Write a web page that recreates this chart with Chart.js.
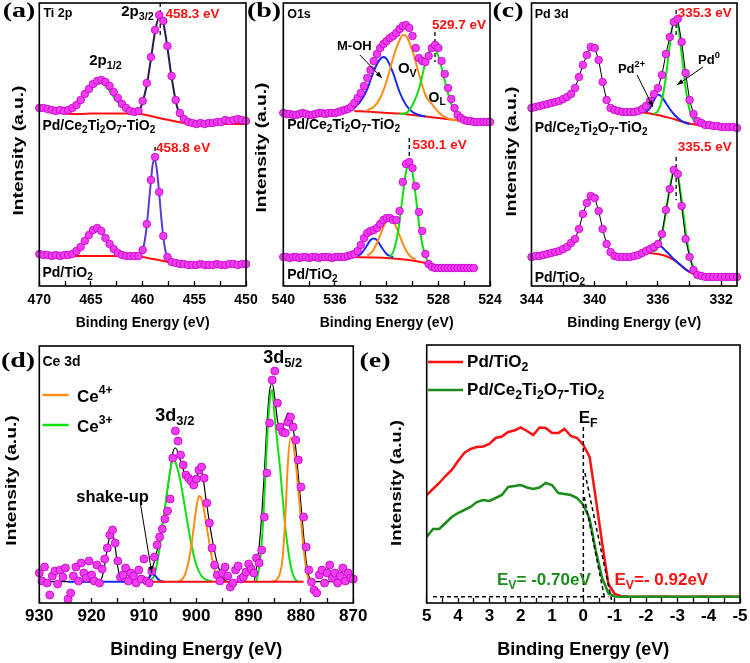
<!DOCTYPE html>
<html>
<head>
<meta charset="utf-8">
<title>XPS spectra</title>
<script src="https://cdn.jsdelivr.net/npm/chart.js@4.4.1/dist/chart.umd.min.js"></script>
<style>
  html, body { margin: 0; padding: 0; background: #fff; }
  #fig { position: relative; width: 750px; height: 663px; overflow: hidden; }
  #fig canvas { position: absolute; left: 0; top: 0; }
</style>
</head>
<body>
<div id="fig">
  <canvas id="panelA" width="750" height="663"></canvas>
  <canvas id="panelB" width="750" height="663"></canvas>
  <canvas id="panelC" width="750" height="663"></canvas>
  <canvas id="panelD" width="750" height="663"></canvas>
  <canvas id="panelE" width="750" height="663"></canvas>
</div>
<script>
// ---------- (a) Ti 2p ----------
const aEnergy = [470, 469.6, 469.2, 468.8, 468.4, 468, 467.6, 467.2, 466.8, 466.4,
  466, 465.6, 465.2, 464.8, 464.4, 464, 463.6, 463.2, 462.8, 462.4,
  462, 461.6, 461.2, 460.8, 460.4, 460, 459.6, 459.2, 458.8, 458.4,
  458, 457.6, 457.2, 456.8, 456.4, 456, 455.6, 455.2, 454.8, 454.4,
  454, 453.6, 453.2, 452.8, 452.4, 452, 451.6, 451.2, 450.8, 450.4, 450];
const aUpper = [178, 178, 177, 176, 175, 176, 175, 176, 178, 181,
  186, 192, 197, 202, 205, 206, 204, 200, 194, 188,
  182, 178, 175, 174, 175, 185, 203, 229, 256, 271,
  265, 240, 210, 186, 173, 167, 164, 163, 162, 163,
  162, 163, 163, 164, 164, 166, 165, 166, 167, 166, 165];
const aLower = [32, 31, 31, 30, 31, 30, 31, 31, 32, 35,
  39, 45, 51, 56, 58, 55, 48, 42, 37, 33,
  31, 30, 30, 30, 30, 36, 62, 106, 129, 94,
  50, 29, 24, 23, 22, 22, 21, 21, 21, 22,
  21, 21, 21, 22, 21, 21, 22, 22, 21, 22, 22];
const aUpperBg = [[470, 176], [469, 175], [468, 173.5], [467, 172], [466, 172], [465, 172.5], [464, 172.5],
  [463, 172.5], [462, 172.5], [461, 172.5], [460.2, 172], [459, 169.5], [458, 167], [457, 165], [456, 163],
  [455.5, 162.5], [455, 162], [450, 162]];
const aUpperP12 = [[467.2, 174], [466.8, 176], [466.4, 179], [466, 184], [465.6, 189], [465.2, 195], [464.8, 200],
  [464.4, 203], [464, 203], [463.6, 200], [463.2, 195], [462.8, 189], [462.4, 184], [462, 179], [461.6, 176],
  [461.2, 174], [460.8, 173]];
const aUpperP32 = [[460.4, 173], [460, 184], [459.6, 201], [459.2, 227], [458.8, 254], [458.4, 269], [458, 263],
  [457.6, 238], [457.2, 209], [456.8, 185], [456.4, 171], [456, 166], [455.6, 163]];
const aLowerBg = [[470, 31], [466, 30], [462, 30], [460.4, 29.5], [459, 27], [458, 25], [457, 23], [456, 22],
  [455, 21.5], [450, 21]];
const aLowerP12 = [[467.2, 31], [466.8, 32], [466.4, 34.5], [466, 39], [465.6, 45], [465.2, 51], [464.8, 56],
  [464.4, 57], [464, 54], [463.6, 48], [463.2, 42], [462.8, 36], [462.4, 33], [462, 31], [461.6, 30]];
const aLowerP32 = [[460.4, 30], [460.2, 32], [460, 35.5], [459.8, 45], [459.6, 60.5], [459.4, 82.5], [459.2, 105],
  [459, 123], [458.8, 126], [458.6, 114], [458.4, 93], [458.2, 68.5], [458, 49], [457.8, 35.5], [457.6, 28],
  [457.4, 25], [457.2, 23.5]];
const aMarkUp = [[458.3, 283], [458.3, 249]];
const aMarkLow = [[458.8, 139], [458.8, 126]];
const aMajor = [470, 465, 460, 455, 450];
const aMinor = [467.5, 462.5, 457.5, 452.5];

// ---------- (b) O 1s ----------
const bEnergy = [540, 539.75, 539.5, 539.25, 539, 538.75, 538.5, 538.25, 538, 537.75,
  537.5, 537.25, 537, 536.75, 536.5, 536.25, 536, 535.75, 535.5, 535.25,
  535, 534.75, 534.5, 534.25, 534, 533.75, 533.5, 533.25, 533, 532.75,
  532.5, 532.25, 532, 531.75, 531.5, 531.25, 531, 530.75, 530.5, 530.25,
  530, 529.75, 529.5, 529.25, 529, 528.75, 528.5, 528.25, 528, 527.75,
  527.5, 527.25, 527, 526.75, 526.5, 526.25, 526, 525.75, 525.5, 525.25,
  525, 524.75, 524.5, 524.25, 524];
const bUpper = [173, 172, 172, 171, 171, 172, 173, 172, 171, 171,
  172, 173, 173, 172, 173, 173, 173, 174, 175, 176,
  177, 179, 183, 188, 193, 200, 208, 216, 225, 232,
  238, 242, 245, 248, 250, 253, 257, 260, 261, 258,
  250, 238, 228, 225, 224, 230, 238, 241, 238, 225,
  212, 198, 187, 178, 171, 168, 166, 165, 165, 164,
  164, 164, 164, 164, 164];
const bLower = [29, 29, 28, 29, 29, 28, 29, 29, 28, 29,
  29, 28, 29, 29, 29, 28, 29, 29, 29, 29,
  30, 31, 32, 35, 41, 48, 53, 55, 56, 58,
  62, 66, 68, 68, 66, 66, 75, 104, 122, 124,
  118, 100, 74, 55, 32, 22, 19, 18, 18, 18,
  18, 18, 18, 18, 18, 18, 18, 18, 18, 18,
  null, null, null, null, null];
const bUpperBg = [[534.5, 175], [533, 174], [532, 173], [531, 172.5], [530, 171], [529, 169.5], [528, 168],
  [527, 166.5], [526, 165], [525, 164.3]];
const bUpperOH = [[534.5, 178], [534, 185], [533.5, 197], [533, 215], [532.5, 227], [532.25, 229], [532, 227],
  [531.5, 213], [531, 194], [530.5, 181], [530, 174], [529.5, 171], [529, 169.5]];
const bUpperOv = [[533.5, 176], [533, 179], [532.5, 188], [532, 205], [531.5, 228], [531, 246], [530.75, 251],
  [530.5, 250], [530, 235], [529.5, 212], [529, 191], [528.5, 182], [528, 174], [527.5, 169], [527, 166.5],
  [526.5, 165.5]];
const bUpperOL = [[531, 172], [530.5, 173], [530, 181], [529.5, 197], [529, 223], [528.5, 239], [528, 230],
  [527.5, 205], [527, 182], [526.5, 170], [526, 165.5], [525.5, 165]];
const bLowerBg = [[534.5, 29], [533, 28.5], [532, 28], [531, 27], [530, 25.5], [529, 23], [528.5, 21],
  [528, 20], [527, 19], [526, 18.5], [525.2, 18.5]];
const bLowerOH = [[534.25, 30], [534, 32], [533.75, 36], [533.5, 41], [533.25, 46], [533, 47.5], [532.75, 46],
  [532.5, 41], [532.25, 36], [532, 32], [531.75, 30], [531.5, 28.5]];
const bLowerOv = [[533.5, 30.5], [533.25, 32.5], [533, 36.5], [532.75, 43], [532.5, 51], [532.25, 59],
  [532, 65.6], [531.75, 68], [531.5, 65.5], [531.25, 58.5], [531, 50.5], [530.75, 42.5], [530.5, 35.5],
  [530.25, 31], [530, 28], [529.75, 27]];
const bLowerOL = [[531.75, 29], [531.5, 34], [531.25, 45], [531, 64.5], [530.75, 91], [530.5, 114],
  [530.25, 123.5], [530, 113], [529.75, 90], [529.5, 62.5], [529.25, 42.5], [529, 30], [528.75, 24], [528.5, 21]];
const bMarkUp = [[528.26, 254], [528.26, 224]];
const bMarkLow = [[530.25, 148], [530.25, 126]];
const bMajor = [540, 536, 532, 528, 524];
const bMinor = [538, 534, 530, 526];

// ---------- (c) Pd 3d ----------
const cEnergy = [344, 343.75, 343.5, 343.25, 343, 342.75, 342.5, 342.25, 342, 341.75,
  341.5, 341.25, 341, 340.75, 340.5, 340.25, 340, 339.75, 339.5, 339.25,
  339, 338.75, 338.5, 338.25, 338, 337.75, 337.5, 337.25, 337, 336.75,
  336.5, 336.25, 336, 335.75, 335.5, 335.25, 335, 334.75, 334.5, 334.25,
  334, 333.75, 333.5, 333.25, 333, 332.75, 332.5, 332.25, 332, 331.75,
  331.5, 331.25, 331];
const cUpper = [178, 179, 180, 181, 182, 183, 184, 185, 187, 189,
  192, 198, 209, 221, 231, 239, 238, 226, 204, 186,
  178, 176, 175, 174, 174, 174, 174, 175, 177, 180,
  185, 192, 198, 211, 232, 249, 264, 267, 244, 213,
  186, 172, 165, 163, 161, 161, 160, 160, 159, 159,
  159, 159, 158];
const cLower = [29, 30, 30, 31, 32, 33, 34, 35, 37, 39,
  43, 47, 57, 72, 83, 90, 88, 75, 57, 42,
  34, 30, 29, 29, 29, 29, 30, 31, 33, 35,
  37, 39, 42, 52, 76, 97, 116, 112, 80, 47,
  29, 16, 11, 10, 9, 9, 9, 9, 9, 9,
  9, 9, 9];
const cUpperBg = [[337.25, 174], [336.5, 172.5], [336, 171], [335.5, 169], [335, 167], [334.5, 164.5],
  [334, 162.5], [333.5, 161], [333, 159.5], [332.9, 159.3]];
const cUpperPd2 = [[336.75, 174], [336.5, 178], [336.25, 186], [336, 191.5], [335.75, 189], [335.5, 183],
  [335.25, 177], [335, 172], [334.75, 168], [334.5, 165], [334.25, 163], [334, 162]];
const cUpperPd0 = [[336.25, 172], [336, 175], [335.75, 186], [335.5, 209], [335.25, 241], [335, 264.5],
  [334.75, 261], [334.5, 232], [334.25, 198], [334, 176], [333.75, 166], [333.5, 161.5]];
const cLowerBg = [[337.25, 34], [336.5, 33], [336, 32], [335.5, 30], [335, 26], [334.5, 20], [334, 14],
  [333.5, 10], [333.25, 9]];
const cLowerPd2 = [[336.75, 35], [336.5, 38], [336.25, 40.5], [336, 41], [335.75, 39], [335.5, 35],
  [335.25, 31], [335, 27], [334.75, 23.5], [334.5, 20], [334.25, 16.5], [334, 14]];
const cLowerPd0 = [[336.25, 34], [336, 39], [335.75, 51], [335.5, 73], [335.25, 98.5], [335, 115],
  [334.75, 111], [334.5, 85.5], [334.25, 55], [334, 31], [333.75, 18], [333.5, 10.5]];
const cMarkUp = [[334.85, 276], [334.85, 251]];
const cMarkLow = [[334.85, 129], [334.85, 86]];
const cMajor = [344, 340, 336, 332];
const cMinor = [342, 338, 334];

// ---------- (d) Ce 3d ----------
const dEnergy = [930, 929.5, 929, 928.5, 928, 927.5, 927, 926.5, 926, 925.5,
  925, 924.5, 924, 923.5, 923, 922.5, 922, 921.5, 921, 920.5,
  920, 919.5, 919, 918.5, 918, 917.5, 917, 916.5, 916, 915.5,
  915, 914.5, 914, 913.5, 913, 912.5, 912, 911.5, 911, 910.5,
  910, 909.5, 909, 908.5, 908, 907.5, 907, 906.5, 906, 905.5,
  905, 904.5, 904, 903.5, 903, 902.5, 902, 901.5, 901, 900.5,
  900, 899.5, 899, 898.5, 898, 897.5, 897, 896.5, 896, 895.5,
  895, 894.5, 894, 893.5, 893, 892.5, 892, 891.5, 891, 890.5,
  890, 889.5, 889, 888.5, 888, 887.5, 887, 886.5, 886, 885.5,
  885, 884.5, 884, 883.5, 883, 882.5, 882, 881.5, 881, 880.5,
  880, 879.5, 879, 878.5, 878, 877.5, 877, 876.5, 876, 875.5,
  875, 874.5, 874, 873.5, 873, 872.5, 872, 871.5, 871, 870.5, 870];
const dCounts = [30, 22, 36, 20, 8, 27, 32, 19, 33, 26,
  35, 4, 10, 27, 36, 22, 40, 30, 25, 42,
  28, 22, 38, 20, 34, 44, 55, 68, 73, 60,
  42, 26, 28, 35, 22, 30, 27, 20, 33, 24,
  44, 22, 20, 32, 46, 58, 66, 74, 84, 92,
  104, 145, 172, 162, 148, 138, 128, 125, 122, 118,
  124, 133, 136, 125, 100, 80, 55, 38, 28, 22,
  30, 36, 27, 16, 20, 33, 37, 24, 26, 31,
  39, 34, 30, 45, 40, 53, 86, 130, 180, 223,
  232, 200, 176, 171, 170, 181, 186, 176, 163, 143,
  116, 86, 56, 33, 21, 13, 10, 28, 33, 20,
  30, 38, 25, 30, 20, 27, 35, 22, 30, 25, 24];
const dBg = [[908.5, 21.3], [879.5, 21.3]];
const dShake = [[924.5, 21.3], [910, 21.3], [909.5, 22], [909, 25], [908.5, 29], [908, 28], [907.5, 25],
  [907, 22.5], [906.5, 21.5], [906, 21.3]];
const dCe3a = [[909, 22], [908, 28], [907, 55], [906, 95], [905, 132], [904.5, 143], [904, 141], [903, 121],
  [902, 90], [901, 60], [900, 38], [899, 27], [898, 23], [897, 21.5]];
const dCe4a = [[903.5, 21.5], [903, 22.5], [902.5, 25], [902, 31], [901.5, 41], [901, 55], [900.5, 75],
  [900, 95], [899.5, 107], [899, 104], [898.5, 92], [898, 76], [897.5, 60], [897, 45], [896.5, 33],
  [896, 26], [895.5, 22.5], [895, 21.3]];
const dCe3b = [[888.5, 22], [888, 35], [887.5, 60], [887, 105], [886.5, 160], [886, 200], [885.5, 213],
  [885, 185], [884.5, 160], [884, 135], [883.5, 105], [883, 76], [882.5, 55], [882, 38], [881.5, 28],
  [881, 23], [880.5, 21.5]];
const dCe4b = [[885.5, 21.3], [885, 22], [884.5, 24], [884, 30], [883.5, 45], [883, 85], [882.5, 140],
  [882, 165], [881.5, 160], [881, 140], [880.5, 112], [880, 83], [879.5, 55], [879, 34], [878.5, 23],
  [878, 21.3]];
const dEnvelope = [[930, 21.3], [918.5, 21.3], [918, 26], [917.5, 38], [917, 55], [916.5, 67], [916, 70],
  [915.5, 56], [915, 36], [914.5, 24], [914, 21.3], [910, 21.3], [909, 26], [908, 42], [907, 64], [906, 95],
  [905, 132], [904.5, 150], [904, 155], [903, 142], [902, 126], [901, 118], [900, 124], [899.5, 132],
  [899, 131], [898, 98], [897, 65], [896, 40], [895, 26], [894, 21.3], [889, 21.3], [888.5, 35], [888, 56],
  [887.5, 88], [887, 130], [886.5, 180], [886, 212], [885.5, 220], [885, 205], [884.5, 183], [884, 172],
  [883.5, 175], [883, 183], [882.5, 190], [882, 188], [881.5, 175], [881, 155], [880.5, 127], [880, 98],
  [879.5, 68], [879, 42], [878.5, 27], [878, 21.3], [870, 21.3]];
const dMajor = [930, 920, 910, 900, 890, 880, 870];
const dMinor = [925, 915, 905, 895, 885, 875];

// ---------- (e) valence band ----------
const eEnergy = [5, 4.8, 4.6, 4.4, 4.2, 4, 3.8, 3.6, 3.4, 3.2,
  3, 2.8, 2.6, 2.4, 2.2, 2, 1.8, 1.6, 1.4, 1.2,
  1, 0.8, 0.6, 0.4, 0.2, 0, -0.2, -0.4, -0.6, -0.8,
  -1, -1.2, -1.4, -1.6, -1.8, -2, -2.2, -2.4, -2.6, -2.8,
  -3, -3.2, -3.4, -3.6, -3.8, -4, -4.2, -4.4, -4.6, -4.8, -5];
const ePdTiO2 = [108, 114, 120, 127, 133, 142, 150, 154, 156, 156.5,
  159, 165, 166.5, 171, 172.5, 175.5, 172, 168, 175.5, 175,
  170, 170, 174, 167, 165, 158, 146, 104, 60, 19,
  9, 7, 6.5, 6.3, 6.3, 6.3, 6.5, 6.3, 6.6, 6.3,
  6.3, 6.3, 6.3, 6.3, 6.5, 6.3, 6.3, 6.6, 6.6, 6.3, 6.3];
const ePdCeTi = [66, 74, 74, 80, 86, 90, 93, 96, 101, 103,
  102, 105, 108, 116, 117, 118, 115.5, 114, 115.5, 120,
  118, 110, 109, 108, 105, 98, 84, 52, 25, 9.7,
  6.5, 6.3, 6.3, 6.3, 6.3, 6.3, 6.3, 6.3, 6.3, 6.3,
  6.3, 6.3, 6.3, 6.3, 6.3, 6.3, 6.3, 6.3, 6.3, 6.3, 6.3];
const eFermi = [[0, 176], [0, 0]];
const eBase = [[4.8, 6.3], [-0.8, 6.3]];
const eEdgeRed = [[-0.05, 130], [-0.9, 3]];
const eEdgeGreen = [[-0.03, 106], [-0.69, 3]];
const eMajor = [5, 4, 3, 2, 1, 0, -1, -2, -3, -4, -5];
const eMinor = [4.5, 3.5, 2.5, 1.5, 0.5, -0.5, -1.5, -2.5, -3.5, -4.5];

// ---------- drawing ----------
const SANS = "'Liberation Sans', Arial, Helvetica, sans-serif";
const SERIF = "'Liberation Serif', 'Times New Roman', serif";
const MAGENTA = '#f23cf2';
const MAGENTA_EDGE = '#c000c4';
const RED = '#ff1010';
const GREEN = '#10e010';
const ORANGE = '#ff8c14';
const BLUE = '#1428f0';
const DARKGREEN = '#1c8c1c';

const zip = (xs, ys) => xs.map((x, i) => [x, ys[i]]);

function dots(xs, ys, extra) {
  return Object.assign({
    data: zip(xs, ys), showLine: false, pointRadius: 3.8,
    pointBackgroundColor: MAGENTA, pointBorderColor: MAGENTA_EDGE, pointBorderWidth: 0.8, clip: false
  }, extra);
}
function curve(pts, color, width, extra) {
  return Object.assign({
    data: pts, showLine: true, borderColor: color, borderWidth: width || 2,
    pointRadius: 0, cubicInterpolationMode: 'monotone'
  }, extra);
}
function dashed(pts, width) {
  return curve(pts, '#000', width || 1.3, { borderDash: [4, 3], cubicInterpolationMode: 'default', tension: 0 });
}

// "Pd/Ce{_2}Ti" -> sub / sup pieces
function pieces(str) {
  const out = [];
  const re = /\{([_^])([^}]*)\}/g;
  let last = 0, m;
  while ((m = re.exec(str))) {
    if (m.index > last) out.push([str.slice(last, m.index), '']);
    out.push([m[2], m[1]]);
    last = re.lastIndex;
  }
  if (last < str.length) out.push([str.slice(last), '']);
  return out;
}

function label(ctx, str, x, y, size, color, align) {
  const ps = pieces(str);
  ctx.save();
  ctx.fillStyle = color;
  ctx.textBaseline = 'middle';
  ctx.textAlign = 'left';
  const fonts = ps.map(([, m]) => `bold ${m ? size * 0.72 : size}px ${SANS}`);
  const widths = ps.map(([t], i) => { ctx.font = fonts[i]; return ctx.measureText(t).width; });
  const total = widths.reduce((a, b) => a + b, 0);
  let cx = align === 'center' ? x - total / 2 : align === 'right' ? x - total : x;
  ps.forEach(([t, m], i) => {
    ctx.font = fonts[i];
    const dy = m === '_' ? size * 0.32 : m === '^' ? -size * 0.38 : 0;
    ctx.fillText(t, cx, y + dy);
    cx += widths[i];
  });
  ctx.restore();
}

function arrow(ctx, x1, y1, x2, y2) {
  const a = Math.atan2(y2 - y1, x2 - x1), h = 7;
  ctx.save();
  ctx.strokeStyle = '#000';
  ctx.fillStyle = '#000';
  ctx.lineWidth = 1;
  ctx.beginPath(); ctx.moveTo(x1, y1); ctx.lineTo(x2, y2); ctx.stroke();
  ctx.beginPath();
  ctx.moveTo(x2, y2);
  ctx.lineTo(x2 - h * Math.cos(a - 0.35), y2 - h * Math.sin(a - 0.35));
  ctx.lineTo(x2 - h * Math.cos(a + 0.35), y2 - h * Math.sin(a + 0.35));
  ctx.closePath(); ctx.fill();
  ctx.restore();
}

function decorate(chart, cfg) {
  const { ctx, chartArea: a, scales: { x, y } } = chart;
  const px = v => x.getPixelForValue(v), py = v => y.getPixelForValue(v);
  ctx.save();
  ctx.strokeStyle = '#000';
  ctx.lineWidth = 1.6;
  ctx.strokeRect(a.left, a.top, a.right - a.left, a.bottom - a.top);

  ctx.fillStyle = '#000';
  ctx.textAlign = 'center';
  ctx.textBaseline = 'middle';
  ctx.save();
  ctx.translate(cfg.tag[1], cfg.tag[2]);
  ctx.scale(1.4, 1);
  ctx.font = `bold 20px ${SERIF}`;
  ctx.fillText(cfg.tag[0], 0, 0);
  ctx.restore();

  const [off, shift, size, stretch] = cfg.yTitle;
  ctx.save();
  ctx.translate(a.left - off, (a.top + a.bottom) / 2 + shift);
  ctx.rotate(-Math.PI / 2);
  ctx.scale(stretch, 1);
  ctx.font = `bold ${size}px ${SANS}`;
  ctx.fillText('Intensity (a.u.)', 0, 0);
  ctx.restore();

  (cfg.swatches || []).forEach(([x1, x2, yv, color]) => {
    ctx.strokeStyle = color;
    ctx.lineWidth = 2.5;
    ctx.beginPath(); ctx.moveTo(px(x1), py(yv)); ctx.lineTo(px(x2), py(yv)); ctx.stroke();
  });
  (cfg.arrows || []).forEach(([x1, y1, x2, y2]) => arrow(ctx, px(x1), py(y1), px(x2), py(y2)));
  (cfg.texts || []).forEach(([s, xv, yv, size, color, align]) =>
    label(ctx, s, px(xv), py(yv), size, color || '#000', align || 'left'));
  ctx.restore();
}

function buildPanel(id, cfg) {
  const [L, T, R, B] = cfg.box;
  const ticks = cfg.major.concat(cfg.minor).sort((p, q) => p - q);
  return new Chart(document.getElementById(id), {
    type: 'scatter',
    data: { datasets: cfg.datasets },
    options: {
      responsive: false,
      animation: false,
      events: [],
      layout: { autoPadding: false, padding: { left: L, top: T, right: 750 - R, bottom: 663 - B - cfg.axisH } },
      plugins: { legend: { display: false }, tooltip: { enabled: false } },
      scales: {
        x: {
          type: 'linear', reverse: true, min: cfg.xMin, max: cfg.xMax,
          afterBuildTicks: s => { s.ticks = ticks.map(v => ({ value: v })); },
          afterFit: s => { s.height = cfg.axisH; },
          ticks: {
            autoSkip: false, maxRotation: 0, minRotation: 0, padding: cfg.tickPad, color: '#000',
            font: { family: SANS, size: cfg.tickSize, weight: 'bold' },
            callback: v => cfg.major.includes(v) ? String(v) : ''
          },
          grid: { drawOnChartArea: false, drawTicks: true, tickLength: -5, tickColor: '#000', tickWidth: 1.3 },
          border: { display: false },
          title: {
            display: true, text: 'Binding Energy (eV)', color: '#000', padding: 0,
            font: { family: SANS, size: cfg.titleSize, weight: 'bold' }
          }
        },
        y: { display: false, min: 0, max: cfg.yMax }
      }
    },
    plugins: [{ id: 'decor', afterDraw: chart => decorate(chart, cfg) }]
  });
}

const PD_CE = 'Pd/Ce{_2}Ti{_2}O{_7}-TiO{_2}';
const topRow = { axisH: 45.4, tickPad: 10.6, tickSize: 14, titleSize: 14, yMax: 283 };
const bottomRow = { axisH: 57.8, tickPad: 7.8, tickSize: 17, titleSize: 18 };

buildPanel('panelA', Object.assign({}, topRow, {
  box: [39.3, 3, 246, 286], xMin: 450, xMax: 470, major: aMajor, minor: aMinor,
  tag: ['(a)', 19, 12], yTitle: [20, 6, 14, 1.37],
  datasets: [
    dots(aEnergy, aUpper), dots(aEnergy, aLower),
    dashed(aMarkUp), dashed(aMarkLow),
    curve(aUpperP32, '#2b1b4f'), curve(aUpperP12, GREEN), curve(aUpperBg, RED),
    curve(aLowerP32, '#5a3ad8'), curve(aLowerP12, GREEN), curve(aLowerBg, RED)
  ],
  texts: [
    ['Ti 2p', 469.6, 272, 12.5], ['2p{_3/2}', 460.5, 274, 15, '#000', 'center'],
    ['458.3 eV', 457.8, 272, 13.5, RED], ['2p{_1/2}', 463.6, 225, 15, '#000', 'center'],
    [PD_CE, 469.7, 160, 14], ['458.8 eV', 458.7, 138, 13.5, RED], ['Pd/TiO{_2}', 469.7, 13, 14]
  ]
}));

buildPanel('panelB', Object.assign({}, topRow, {
  box: [283.3, 3, 490, 286], xMin: 524, xMax: 540, major: bMajor, minor: bMinor,
  tag: ['(b)', 264, 12], yTitle: [21, 3, 14, 1.37],
  datasets: [
    dots(bEnergy, bUpper), dots(bEnergy, bLower),
    dashed(bMarkUp), dashed(bMarkLow),
    curve(bUpperOL, GREEN), curve(bUpperOv, ORANGE), curve(bUpperOH, BLUE), curve(bUpperBg, RED),
    curve(bLowerOL, GREEN), curve(bLowerOv, ORANGE), curve(bLowerOH, BLUE), curve(bLowerBg, RED)
  ],
  texts: [
    ['O1s', 539.7, 271, 12.5], ['M-OH', 534.5, 240, 13, '#000', 'center'],
    ['O{_V}', 530.4, 217, 15, '#000', 'center'], ['O{_L}', 528.1, 188, 14, '#000', 'center'],
    ['529.7 eV', 526.4, 261, 13.5, RED, 'center'], [PD_CE, 539.7, 161, 14],
    ['530.1 eV', 527.9, 141, 13.5, RED, 'center'], ['Pd/TiO{_2}', 539.7, 11, 14]
  ],
  arrows: [[534.07, 231, 532.36, 208]]
}));

buildPanel('panelC', Object.assign({}, topRow, {
  box: [531.5, 3, 737, 286], xMin: 331, xMax: 344, major: cMajor, minor: cMinor,
  tag: ['(c)', 508, 12], yTitle: [19, 7, 14, 1.37],
  datasets: [
    dots(cEnergy, cUpper, { showLine: true, borderColor: '#000', borderWidth: 1 }),
    dots(cEnergy, cLower, { showLine: true, borderColor: '#000', borderWidth: 1 }),
    dashed(cMarkUp), dashed(cMarkLow),
    curve(cUpperPd0, GREEN), curve(cUpperPd2, BLUE), curve(cUpperBg, RED),
    curve(cLowerPd0, GREEN), curve(cLowerPd2, BLUE), curve(cLowerBg, RED)
  ],
  texts: [
    ['Pd 3d', 343.8, 271, 12.5], ['335.3 eV', 334.75, 273, 13.5, RED],
    ['Pd{^2+}', 337.67, 217, 13, '#000', 'center'], ['Pd{^0}', 332.77, 226, 13, '#000', 'center'],
    [PD_CE, 343.8, 158, 14], ['335.5 eV', 334.75, 139, 13.5, RED], ['Pd/TiO{_2}', 343.8, 8, 14]
  ],
  arrows: [[337.32, 211, 336.31, 179], [333.15, 219, 334.8, 201]]
}));

buildPanel('panelD', Object.assign({}, bottomRow, {
  box: [39.3, 346, 353.3, 603], xMin: 870, xMax: 930, yMax: 257, major: dMajor, minor: dMinor,
  tag: ['(d)', 18, 362], yTitle: [28, 6, 15.5, 1.24],
  datasets: [
    dots(dEnergy, dCounts, { pointRadius: 4 }),
    curve(dBg, RED), curve(dShake, BLUE),
    curve(dCe4a, ORANGE), curve(dCe3a, GREEN), curve(dCe4b, ORANGE), curve(dCe3b, GREEN),
    curve(dEnvelope, '#000', 1.2)
  ],
  swatches: [[929.4, 924.4, 208, ORANGE], [929.4, 924.4, 178, GREEN]],
  texts: [
    ['Ce 3d', 929.4, 241, 14], ['Ce{^4+}', 922.8, 206, 17], ['Ce{^3+}', 922.8, 176, 17],
    ['3d{_3/2}', 904.1, 187, 18, '#000', 'center'], ['3d{_5/2}', 883.5, 245, 18, '#000', 'center'],
    ['shake-up', 916.0, 106, 16.5, '#000', 'center']
  ],
  arrows: [[910.7, 100, 908.5, 30]]
}));

buildPanel('panelE', Object.assign({}, bottomRow, {
  box: [426.7, 345, 740, 603], xMin: -5, xMax: 5, yMax: 258, major: eMajor, minor: eMinor,
  tag: ['(e)', 375, 362], yTitle: [30, 9, 15.5, 1.2],
  datasets: [
    dashed(eFermi, 1.5), dashed(eBase, 1.5), dashed(eEdgeRed, 1.5), dashed(eEdgeGreen, 1.5),
    curve(zip(eEnergy, ePdCeTi), DARKGREEN, 2.5, { cubicInterpolationMode: 'default', tension: 0 }),
    curve(zip(eEnergy, ePdTiO2), RED, 2.5, { cubicInterpolationMode: 'default', tension: 0 })
  ],
  swatches: [[4.96, 3.84, 241, RED], [4.96, 3.84, 213, DARKGREEN]],
  texts: [
    ['Pd/TiO{_2}', 3.71, 241, 17], [PD_CE, 3.71, 213, 17],
    ['E{_F}', -0.15, 185, 17, '#000', 'center'],
    ['E{_V}= -0.70eV', 1.26, 23, 17, DARKGREEN, 'center'],
    ['E{_V}=- 0.92eV', -2.49, 23, 17, RED, 'center']
  ]
}));
</script>
</body>
</html>
